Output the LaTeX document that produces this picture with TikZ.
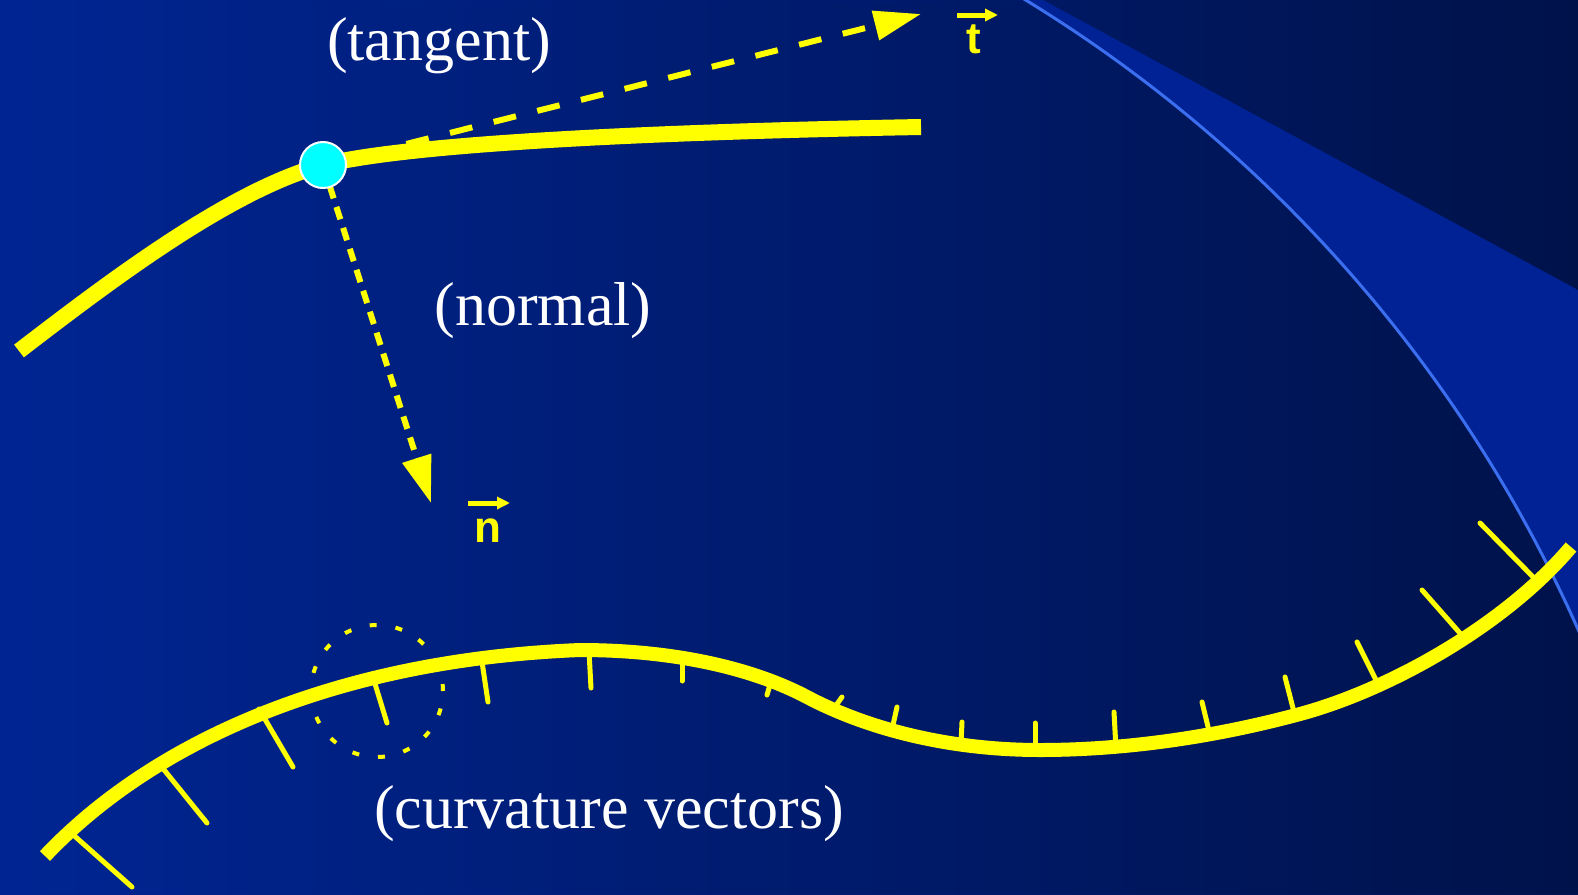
\documentclass[tikz,border=0pt]{standalone}
\usepackage{fontspec}
\setmainfont{Liberation Serif}
\newfontfamily\vecfont{Liberation Sans}
\usetikzlibrary{arrows.meta}
\definecolor{bgL}{RGB}{0,37,147}
\definecolor{bgR}{RGB}{0,18,74}
\definecolor{bandcol}{RGB}{0,34,148}
\definecolor{arccol}{RGB}{60,110,240}
\definecolor{yel}{RGB}{255,255,0}
\definecolor{dotcyan}{RGB}{0,255,255}
\begin{document}
\begin{tikzpicture}[x=0.5pt,y=-0.5pt,
  thickcurve/.style={draw=yel, line width=8pt, line cap=butt, line join=round},
  lowcurve/.style={draw=yel, line width=7pt, line cap=butt, line join=round},
  curvtick/.style={draw=yel, line width=2.5pt, line cap=round},
  vecdash/.style={draw=yel, line width=3pt, line cap=butt, -{Triangle[length=23.5pt,width=14.5pt]}},
  txtlabel/.style={text=white, font=\fontsize{31}{37}\selectfont, anchor=base, inner sep=0pt},
  veclabel/.style={text=yel, font=\vecfont\bfseries\fontsize{22}{26}\selectfont, anchor=base, inner sep=0pt},
  vecarrow/.style={draw=yel, line width=2.5pt, -{Triangle[length=6.5pt,width=6pt]}},
  pointdot/.style={circle, fill=dotcyan, draw=white, line width=1pt, minimum size=23pt, inner sep=0pt},
  dotring/.style={draw=yel, line width=2pt, dash pattern=on 3.5pt off 9.5pt}]
\useasboundingbox (0,0) rectangle (1578,894);
\clip (0,0) rectangle (1578,894);
% background
\shade[left color=bgL, right color=bgR] (0,0) rectangle (1578,894);
% lighter band
\begin{scope}
  \clip (1043,0) -- (1578,290) -- (1578,894) -- (0,894) -- (0,0) -- cycle;
  \fill[bandcol, even odd rule] (0,0) rectangle (1578,894) (295,1198) circle[radius=701.5pt];
\end{scope}
\draw[arccol, line width=1.5pt] (295,1198) circle[radius=701.5pt];
% upper curve
\coordinate (pc) at (323,165);
\coordinate (ttip) at (921,14);
\coordinate (ntip) at (431,503);
\draw[thickcurve] (19,351) .. controls (110,281) and (230,190) .. (pc)
  .. controls (420,141) and (700,131) .. (921,127);
\draw[vecdash, dash pattern=on 11.5pt off 11pt, dash phase=2pt] (pc) -- (ttip);
\draw[vecdash, dash pattern=on 6.5pt off 4.5pt] (pc) -- (ntip);
\node[pointdot] (p) at (pc) {};
% labels
\node[txtlabel] (tangent) at (439,60) {(tangent)};
\node[txtlabel] (normal) at (543,325) {(normal)};
\node[txtlabel] (curvlab) at (609,828) {(curvature vectors)};
\node[veclabel] (tlab) at (973.5,54) {t};
\coordinate (ta1) at (957,15);
\coordinate (ta2) at (998,15);
\draw[vecarrow] (ta1) -- (ta2);
\node[veclabel] (nlab) at (488,542) {n};
\coordinate (na1) at (468,503);
\coordinate (na2) at (510,503);
\draw[vecarrow] (na1) -- (na2);
% curvature ticks
\foreach \sx/\sy/\ex/\ey in {70/832/132/887, 161/766/207/823, 259/709/293/767, 372/674/387/723,
  481/655/488/702, 589/651/591/688, 682/659/682/681, 772/678/767/695, 832/711/842/697,
  891/734/897/707, 961/744/962/722, 1035/750/1035/723, 1116/749/1114/712, 1210/735/1202/702,
  1295/716/1285/677, 1380/688/1357/642, 1466/640/1422/590, 1538/582/1480/523}
  \draw[curvtick] (\sx,\sy) -- (\ex,\ey);
% lower curve
\draw[lowcurve] (45,856) .. controls (150,745) and (330,660) .. (580,650)
  .. controls (680,650) and (757,670.5) .. (807,697)
  .. controls (860,725) and (940,750) .. (1040,750)
  .. controls (1130,750) and (1220,735.6) .. (1300,714)
  .. controls (1390,689.7) and (1505,625) .. (1571,547);
% dotted circle
\draw[dotring] (377,691) circle[radius=33pt];
\end{tikzpicture}
\end{document}
